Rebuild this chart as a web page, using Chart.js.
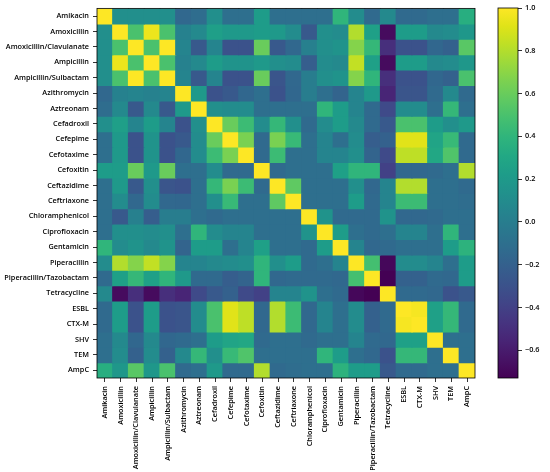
<!DOCTYPE html>
<html>
<head>
<meta charset="utf-8">
<script src="https://cdn.jsdelivr.net/npm/chart.js@4"></script>
<style>
  html, body { margin: 0; padding: 0; background: #fff; }
  #wrap { position: relative; width: 550px; height: 472px; }
  #main { position: absolute; left: 0; top: 0; }
  #cbar { position: absolute; left: 490px; top: 0; }
</style>
</head>
<body>
<div id="wrap">
  <canvas id="main" width="550" height="472"></canvas>
  <canvas id="cbar" width="60" height="472"></canvas>
</div>
<script>
// ---- data ----
const categories = ["Amikacin","Amoxicillin","Amoxicillin/Clavulanate","Ampicillin","Ampicillin/Sulbactam","Azithromycin","Aztreonam","Cefadroxil","Cefepime","Cefotaxime","Cefoxitin","Ceftazidime","Ceftriaxone","Chloramphenicol","Ciprofloxacin","Gentamicin","Piperacillin","Piperacillin/Tazobactam","Tetracycline","ESBL","CTX-M","SHV","TEM","AmpC"];

const rowAmikacin      = [1, .12, .12, .12, .12, -.15, -.12, .12, -.1, -.1, .22, -.1, -.1, -.1, -.1, .4, .1, -.14, .08, -.14, -.14, -.1, -.1, .35];
const rowAmoxicillin   = [.12, 1, .5, .95, .5, .03, .08, .24, .2, .2, .22, .2, .1, -.25, .12, .1, .8, .25, -.68, .22, .22, .08, .1, .18];
const rowAmoxClav      = [.12, .5, 1, .5, 1, .05, -.25, .05, -.3, -.3, .6, -.25, -.15, .02, .12, .15, .68, .42, -.5, -.3, -.3, -.16, -.2, .55];
const rowAmpicillin    = [.12, .95, .5, 1, .5, .03, .08, .22, .15, .15, .2, .12, .1, -.22, .1, .08, .84, .25, -.68, .22, .22, .08, .1, .18];
const rowAmpSulb       = [.12, .5, 1, .5, 1, .05, -.25, .05, -.3, -.3, .6, -.28, -.15, 0, .12, .15, .68, .4, -.5, -.3, -.3, -.16, -.2, .5];
const rowAzithromycin  = [-.15, .03, .05, .03, .05, 1, .2, -.3, -.25, -.16, -.1, -.3, -.16, 0, -.1, -.18, .05, .2, -.55, -.28, -.28, -.14, .08, -.14];
const rowAztreonam     = [-.12, .08, -.25, .08, -.25, .2, 1, .12, .1, .1, -.1, -.1, -.1, -.1, .4, .22, .05, -.14, -.35, .1, .1, -.1, .42, -.1];
const rowCefadroxil    = [.12, .24, .05, .22, .05, -.3, .12, 1, .6, .45, .1, .42, .12, -.14, .1, .22, .08, -.14, -.25, .5, .5, .22, .12, .2];
const rowCefepime      = [-.1, .2, -.3, .15, -.3, -.25, .1, .6, 1, .65, -.14, .65, .43, -.1, .05, -.1, .1, -.22, -.2, .92, .92, .28, .43, -.14];
const rowCefotaxime    = [-.1, .2, -.3, .15, -.3, -.16, .1, .45, .65, 1, -.14, .45, -.1, -.1, .05, .05, .12, -.18, -.35, .83, .83, .3, .52, -.14];
const rowCefoxitin     = [.22, .22, .6, .2, .6, -.1, -.1, .1, -.14, -.14, 1, -.14, -.1, -.1, -.1, .25, .4, .4, -.4, -.15, -.15, -.14, -.1, .8];
const rowCeftazidime   = [-.1, .2, -.25, .12, -.28, -.3, -.1, .42, .65, .45, -.14, 1, .57, -.1, -.1, -.1, .12, -.15, .05, .8, .8, -.1, -.1, -.14];
const rowCeftriaxone   = [-.1, .1, -.15, .1, -.15, -.16, -.1, .12, .43, -.1, -.1, .57, 1, -.1, -.1, -.1, .22, -.14, .05, .45, .45, -.1, -.1, -.12];
const rowChloramph     = [-.1, -.25, .02, -.22, 0, 0, -.1, -.14, -.1, -.1, -.1, -.1, -.1, 1, .15, -.14, -.14, -.14, .15, -.15, -.15, -.14, -.1, -.1];
const rowCipro         = [-.1, .12, .12, .1, .12, -.1, .4, .1, .05, .05, -.1, -.1, -.1, .15, 1, .22, -.1, -.14, -.1, .05, .05, -.1, .4, -.1];
const rowGentamicin    = [.4, .1, .15, .08, .15, -.18, .22, .22, -.1, .05, .25, -.1, -.1, -.14, .22, 1, .05, -.15, -.14, -.1, -.1, -.1, .22, .38];
const rowPiperacillin  = [.1, .8, .68, .84, .68, .05, .05, .08, .1, .12, .4, .12, .22, -.14, -.1, .05, 1, .48, -.7, .1, .1, .05, -.1, .22];
const rowPipTaz        = [-.14, .25, .42, .25, .4, .2, -.14, -.14, -.22, -.18, .4, -.15, -.14, -.14, -.14, -.15, .48, 1, -.73, -.2, -.2, -.14, -.15, .22];
const rowTetracycline  = [.08, -.68, -.5, -.68, -.5, -.55, -.35, -.25, -.2, -.35, -.4, .05, .05, .15, -.1, -.14, -.7, -.73, 1, -.14, -.14, -.15, -.3, -.25];
const rowESBL          = [-.14, .22, -.3, .22, -.3, -.28, .1, .5, .92, .83, -.15, .8, .45, -.15, .05, -.1, .1, -.2, -.14, 1, .98, .25, .42, -.14];
const rowCTXM          = [-.14, .22, -.3, .22, -.3, -.28, .1, .5, .92, .83, -.15, .8, .45, -.15, .05, -.1, .1, -.2, -.14, .98, 1, .25, .42, -.14];
const rowSHV           = [-.1, .08, -.16, .08, -.16, -.14, -.1, .22, .28, .3, -.14, -.1, -.1, -.14, -.1, -.1, .05, -.14, -.15, .25, .25, 1, -.1, -.1];
const rowTEM           = [-.1, .1, -.2, .1, -.2, .08, .42, .12, .43, .52, -.1, -.1, -.1, -.1, .4, .22, -.1, -.15, -.3, .42, .42, -.1, 1, -.1];
const rowAmpC          = [.35, .18, .55, .18, .5, -.14, -.1, .2, -.14, -.14, .8, -.14, -.12, -.1, -.1, .38, .22, .22, -.25, -.14, -.14, -.1, -.1, 1];

const matrix = [rowAmikacin,rowAmoxicillin,rowAmoxClav,rowAmpicillin,rowAmpSulb,rowAzithromycin,rowAztreonam,rowCefadroxil,rowCefepime,rowCefotaxime,rowCefoxitin,rowCeftazidime,rowCeftriaxone,rowChloramph,rowCipro,rowGentamicin,rowPiperacillin,rowPipTaz,rowTetracycline,rowESBL,rowCTXM,rowSHV,rowTEM,rowAmpC];

const colorbarTicks = [1.0, 0.8, 0.6, 0.4, 0.2, 0.0, -0.2, -0.4, -0.6];
const vmin = -0.73, vmax = 1.0;

// ---- viridis colormap ----
const VIR = ['#440154','#471365','#482475','#463480','#414487','#3b528b','#355f8d','#2f6c8e','#2a788e','#25848e','#21918c','#1e9c89','#22a884','#2fb47c','#44bf70','#5ec962','#7ad151','#9bd93c','#bddf26','#dfe318','#fde725'];
function hex2rgb(h){ return [parseInt(h.slice(1,3),16),parseInt(h.slice(3,5),16),parseInt(h.slice(5,7),16)]; }
const VIRRGB = VIR.map(hex2rgb);
function viridis(t){
  t = Math.max(0, Math.min(1, t));
  const p = t * (VIR.length - 1), i = Math.min(VIR.length - 2, Math.floor(p)), f = p - i;
  const a = VIRRGB[i], b = VIRRGB[i+1];
  return 'rgb(' + [0,1,2].map(k => Math.round(a[k] + (b[k]-a[k])*f)).join(',') + ')';
}
const norm = v => (v - vmin) / (vmax - vmin);

Chart.defaults.font.family = "'Open Sans', 'DejaVu Sans', sans-serif";
Chart.defaults.font.size = 7.3;
Chart.defaults.font.weight = '600';
Chart.defaults.color = '#000';

const frame = {
  id: 'frame',
  afterDraw(chart) {
    const a = chart.chartArea, c = chart.ctx;
    c.save();
    c.strokeStyle = '#000';
    c.lineWidth = 0.8;
    c.strokeRect(a.left, a.top, a.right - a.left, a.bottom - a.top);
    c.restore();
  }
};

// ---- main heatmap ----
const datasets = matrix.map((row, r) => ({
  label: categories[r],
  data: row.map(() => [r, r + 1]),
  backgroundColor: row.map(v => viridis(norm(v))),
  borderWidth: 0,
  barPercentage: 1,
  categoryPercentage: 1,
  grouped: false,
  inflateAmount: 0.6
}));

new Chart(document.getElementById('main'), {
  type: 'bar',
  data: { labels: categories, datasets },
  plugins: [frame],
  options: {
    responsive: false,
    animation: false,
    events: [],
    layout: { padding: { top: 8, right: 75, left: 0, bottom: 0 } },
    plugins: { legend: { display: false }, tooltip: { enabled: false } },
    scales: {
      x: {
        type: 'category',
        grid: { display: true, drawOnChartArea: false, offset: false, tickLength: 4, color: '#000', lineWidth: 0.8 },
        border: { display: false },
        ticks: { autoSkip: false, maxRotation: 90, minRotation: 90, padding: 4 },
        afterFit(s) { s.height = 94; }
      },
      y: {
        type: 'linear',
        min: 0, max: 24, reverse: true,
        afterBuildTicks(s) { s.ticks = categories.map((_, i) => ({ value: i + 0.5 })); },
        grid: { display: true, drawOnChartArea: false, tickLength: 4, color: '#000', lineWidth: 0.8 },
        border: { display: false },
        ticks: { autoSkip: false, padding: 4, callback: (v, i) => categories[i] },
        afterFit(s) { s.width = 97; }
      }
    }
  }
});

// ---- colorbar ----
new Chart(document.getElementById('cbar'), {
  type: 'bar',
  data: {
    labels: ['c'],
    datasets: [{
      data: [[vmin, vmax]],
      borderWidth: 0,
      barPercentage: 1,
      categoryPercentage: 1,
      backgroundColor(ctx) {
        const a = ctx.chart.chartArea;
        if (!a) return '#21918c';
        const g = ctx.chart.ctx.createLinearGradient(0, a.bottom, 0, a.top);
        VIR.forEach((c, i) => g.addColorStop(i / (VIR.length - 1), c));
        return g;
      }
    }]
  },
  plugins: [frame],
  options: {
    responsive: false,
    animation: false,
    events: [],
    layout: { padding: { top: 8, left: 8, right: 0, bottom: 94 } },
    plugins: { legend: { display: false }, tooltip: { enabled: false } },
    scales: {
      x: { display: false },
      y: {
        position: 'right',
        min: vmin, max: vmax,
        afterBuildTicks(s) { s.ticks = colorbarTicks.map(v => ({ value: v })); },
        grid: { display: true, drawOnChartArea: false, tickLength: 4, color: '#000', lineWidth: 0.8 },
        border: { display: false },
        ticks: { padding: 3, callback: v => (v < 0 ? '\u2212' : '') + Math.abs(v).toFixed(1) },
        afterFit(s) { s.width = 32; }
      }
    }
  }
});
</script>
</body>
</html>
